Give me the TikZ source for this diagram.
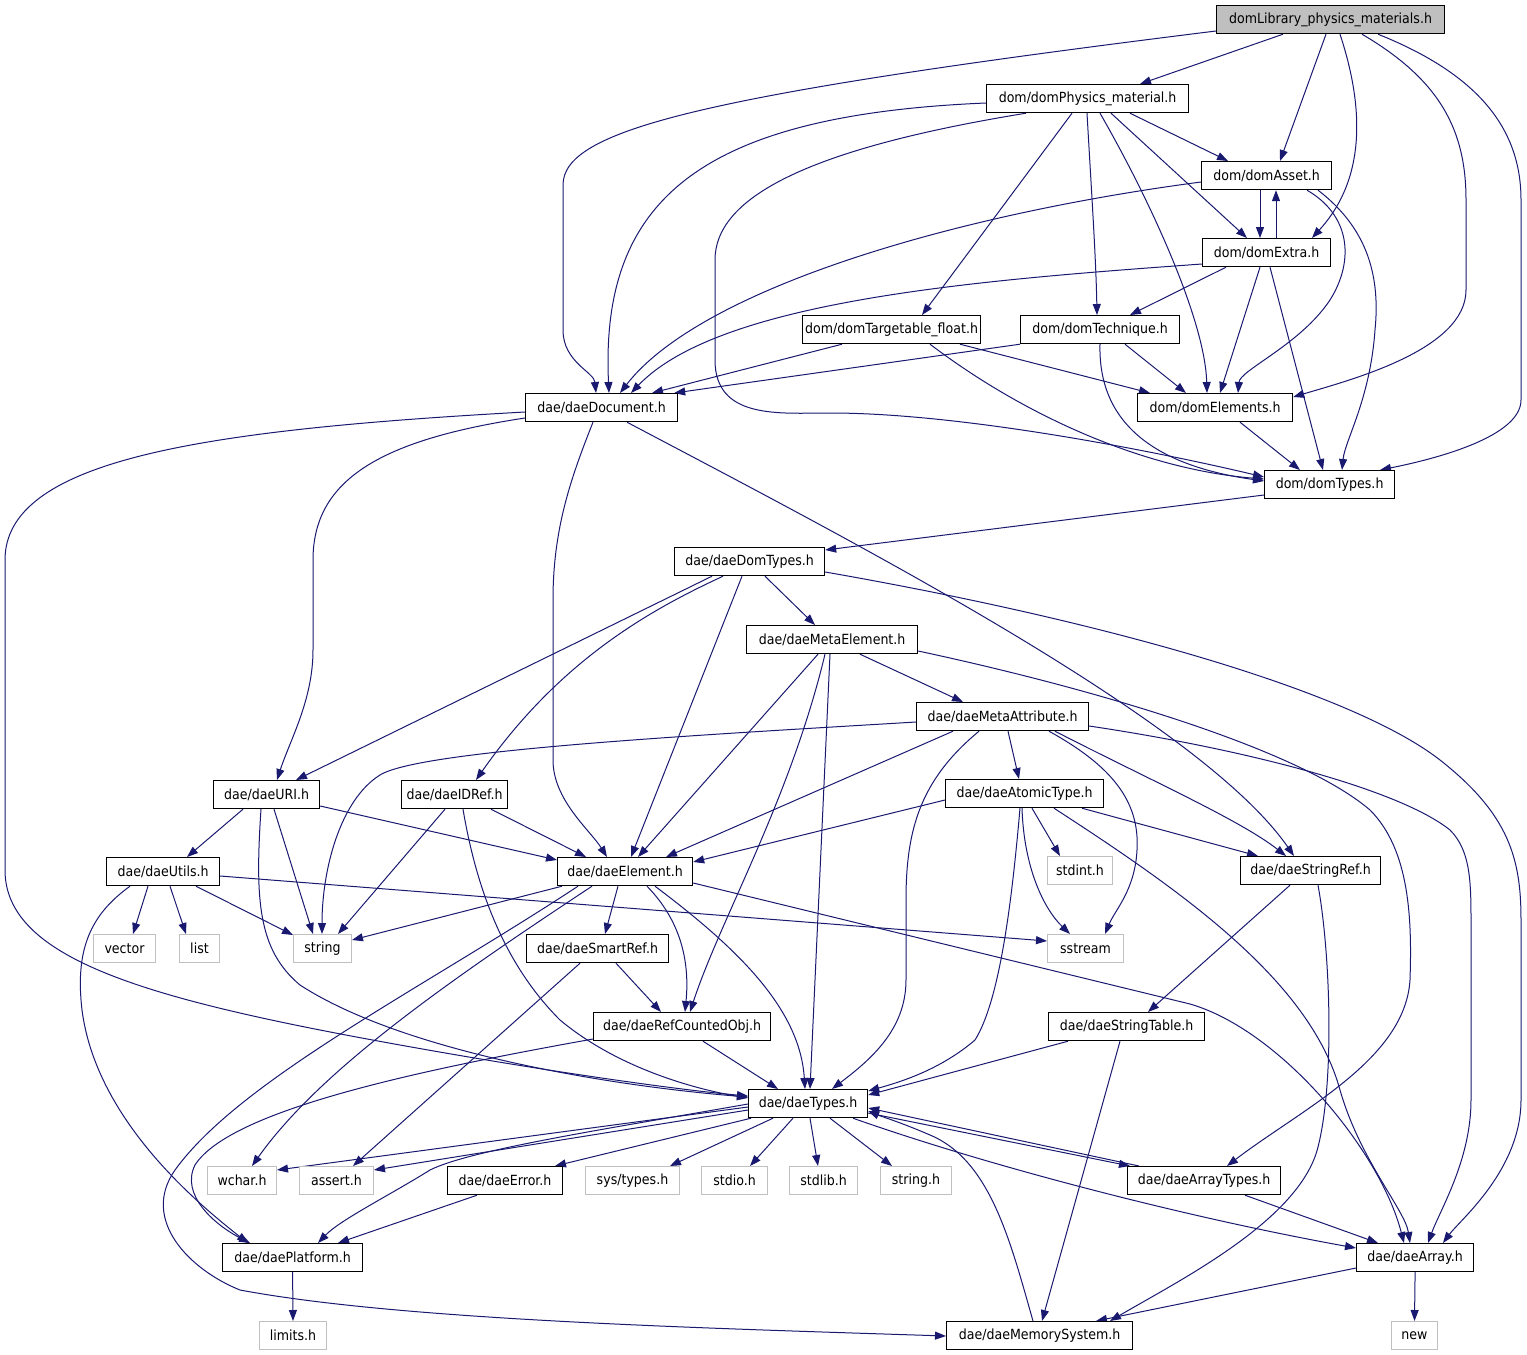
\documentclass[tikz,border=0pt]{standalone}
\usepackage{fontspec}
\setmainfont{DejaVu Sans}[FakeStretch=0.9]
\usetikzlibrary{arrows.meta}
\definecolor{edgec}{HTML}{191970}
\definecolor{gfill}{HTML}{BFBFBF}
\definecolor{gline}{HTML}{C0C0C0}
\pgfdeclarelayer{bg}
\pgfsetlayers{bg,main}
\tikzset{
  box/.style={draw=black, line width=1.2pt, fill=white, inner sep=0pt, minimum height=28pt, anchor=north west, font=\fontsize{14pt}{16pt}\selectfont},
  gbox/.style={box, draw=gline, line width=1pt},
  e/.style={draw=edgec, line width=1pt, -{Triangle[length=11pt,width=8pt]}},
}
\begin{document}
\begin{tikzpicture}[x=1pt,y=-1pt]
\useasboundingbox (0,0) rectangle (1527,1355);
\node[box, fill=gfill, minimum width=228pt] (nL) at (1216,5) {domLibrary\_physics\_materials.h};
\node[box, minimum width=202pt] (nP) at (986,84) {dom/domPhysics\_material.h};
\node[box, minimum width=130pt] (nA) at (1201,161) {dom/domAsset.h};
\node[box, minimum width=128pt] (nE) at (1202,238) {dom/domExtra.h};
\node[box, minimum width=178pt] (nTF) at (802,315) {dom/domTargetable\_float.h};
\node[box, minimum width=159pt] (nT) at (1020,315) {dom/domTechnique.h};
\node[box, minimum width=152pt] (nD) at (525,393) {dae/daeDocument.h};
\node[box, minimum width=155pt] (nEl) at (1137,393) {dom/domElements.h};
\node[box, minimum width=130pt] (nTy) at (1264,470) {dom/domTypes.h};
\node[box, minimum width=150pt] (nDT) at (674,547) {dae/daeDomTypes.h};
\node[box, minimum width=171pt] (nME) at (746,625) {dae/daeMetaElement.h};
\node[box, minimum width=172pt] (nMA) at (916,702) {dae/daeMetaAttribute.h};
\node[box, minimum width=106pt] (nU) at (213,780) {dae/daeURI.h};
\node[box, minimum width=106pt] (nI) at (401,780) {dae/daeIDRef.h};
\node[box, minimum width=158pt] (nAT) at (945,779) {dae/daeAtomicType.h};
\node[box, minimum width=113pt] (nUt) at (106,857) {dae/daeUtils.h};
\node[box, minimum width=135pt] (nDE) at (557,857) {dae/daeElement.h};
\node[box, minimum width=140pt] (nSRf) at (1240,856) {dae/daeStringRef.h};
\node[gbox, minimum width=65pt] (nstdint) at (1047,856) {stdint.h};
\node[gbox, minimum width=62pt] (nvector) at (93,934) {vector};
\node[gbox, minimum width=40pt] (nlist) at (179,934) {list};
\node[gbox, minimum width=58pt] (nstring) at (293,934) {string};
\node[gbox, minimum width=76pt] (nsstream) at (1047,934) {sstream};
\node[box, minimum width=142pt] (nSR) at (526,934) {dae/daeSmartRef.h};
\node[box, minimum width=177pt] (nRC) at (593,1012) {dae/daeRefCountedObj.h};
\node[box, minimum width=156pt] (nST) at (1048,1012) {dae/daeStringTable.h};
\node[box, minimum width=119pt] (nTY) at (748,1089) {dae/daeTypes.h};
\node[gbox, minimum width=69pt] (nwchar) at (207,1166) {wchar.h};
\node[gbox, minimum width=74pt] (nassert) at (299,1166) {assert.h};
\node[box, minimum width=115pt] (nErr) at (447,1166) {dae/daeError.h};
\node[gbox, minimum width=94pt] (nsystypes) at (585,1166) {sys/types.h};
\node[gbox, minimum width=66pt] (nstdio) at (701,1166) {stdio.h};
\node[gbox, minimum width=68pt] (nstdlib) at (789,1166) {stdlib.h};
\node[gbox, minimum width=71pt] (nstringh) at (880,1166) {string.h};
\node[box, minimum width=153pt] (nAT2) at (1127,1166) {dae/daeArrayTypes.h};
\node[box, minimum width=140pt] (nPlat) at (222,1243) {dae/daePlatform.h};
\node[box, minimum width=117pt] (nArr) at (1356,1243) {dae/daeArray.h};
\node[gbox, minimum width=67pt] (nlimits) at (259,1321) {limits.h};
\node[box, minimum width=186pt] (nMS) at (946,1321) {dae/daeMemorySystem.h};
\node[gbox, minimum width=46pt] (nnew) at (1391,1321) {new};

\begin{pgfonlayer}{bg}
% L
\draw[e] ([yshift=-26pt]nL.north west) .. controls (700,95) and (563,130) .. (563,185) -- (563,330) .. controls (563,362) and (594,372) .. ([xshift=71pt]nD.north west);
\draw[e] ([xshift=67pt]nL.south west) -- ([xshift=154pt]nP.north west);
\draw[e] ([xshift=110pt]nL.south west) -- ([xshift=79pt]nA.north west);
\draw[e] ([xshift=124pt]nL.south west) .. controls (1365,110) and (1365,180) .. ([xshift=110pt]nE.north west);
\draw[e] ([xshift=146pt]nL.south west) .. controls (1440,80) and (1466,130) .. (1466,200) -- (1466,290) .. controls (1466,350) and (1350,380) .. ([yshift=-4pt]nEl.north east);
\draw[e] ([xshift=162pt]nL.south west) .. controls (1480,75) and (1521,130) .. (1521,200) -- (1521,400) .. controls (1521,440) and (1420,462) .. ([xshift=116pt]nTy.north west);
% P
\draw[e] ([yshift=-19pt]nP.north west) .. controls (700,115) and (600,200) .. ([xshift=84pt]nD.north west);
\draw[e] ([xshift=40pt]nP.south west) .. controls (800,150) and (715,200) .. (715,260) -- (715,360) .. controls (715,420) and (780,413) .. (830,413) .. controls (960,413) and (1150,450) .. ([yshift=-7pt]nTy.north west);
\draw[e] ([xshift=144pt]nP.south west) -- ([xshift=27pt]nA.north west);
\draw[e] ([xshift=125pt]nP.south west) -- ([xshift=45pt]nE.north west);
\draw[e] ([xshift=86pt]nP.south west) -- ([xshift=120pt]nTF.north west);
\draw[e] ([xshift=101pt]nP.south west) .. controls (1092,200) and (1096,260) .. ([xshift=77pt]nT.north west);
\draw[e] ([xshift=114pt]nP.south west) .. controls (1150,200) and (1205,320) .. ([xshift=70pt]nEl.north west);
% A
\draw[e] ([yshift=-21pt]nA.north west) .. controls (950,215) and (700,290) .. ([xshift=95pt]nD.north west);
\draw[e] ([xshift=59pt]nA.south west) -- ([xshift=58pt]nE.north west);
\draw[e] ([xshift=106pt]nA.south west) .. controls (1350,215) and (1355,260) .. (1330,300) .. controls (1300,345) and (1240,370) .. ([xshift=101pt]nEl.north west);
\draw[e] ([xshift=117pt]nA.south west) .. controls (1370,230) and (1380,280) .. (1375,330) .. controls (1370,400) and (1345,440) .. ([xshift=78pt]nTy.north west);
% E
\draw[e] ([xshift=74pt]nE.north west) -- ([xshift=75pt]nA.south west);
\draw[e] ([yshift=-26pt]nE.north west) .. controls (980,280) and (720,300) .. ([xshift=106pt]nD.north west);
\draw[e] ([xshift=24pt]nE.south west) -- ([xshift=110pt]nT.north west);
\draw[e] ([xshift=58pt]nE.south west) -- ([xshift=83pt]nEl.north west);
\draw[e] ([xshift=68pt]nE.south west) -- ([xshift=59pt]nTy.north west);
% TF
\draw[e] ([xshift=40pt]nTF.south west) -- ([xshift=127pt]nD.north west);
\draw[e] ([xshift=158pt]nTF.south west) -- ([xshift=13pt]nEl.north west);
\draw[e] ([xshift=128pt]nTF.south west) .. controls (1030,420) and (1150,470) .. ([yshift=-9pt]nTy.north west);
% T
\draw[e] (nT.south west) -- ([xshift=-4pt]nD.north east);
\draw[e] ([xshift=105pt]nT.south west) -- ([xshift=49pt]nEl.north west);
\draw[e] ([xshift=80pt]nT.south west) .. controls (1098,420) and (1150,465) .. ([yshift=-11pt]nTy.north west);
% D
\draw[e] ([yshift=-19pt]nD.north west) .. controls (200,430) and (5,460) .. (5,560) -- (5,870) .. controls (5,960) and (150,1000) .. (400,1045) .. controls (550,1072) and (680,1090) .. ([yshift=-7pt]nTY.north west);
\draw[e] ([yshift=-25pt]nD.north west) .. controls (380,440) and (313,480) .. (313,560) -- (313,650) .. controls (313,700) and (290,740) .. ([xshift=64pt]nU.north west);
\draw[e] ([xshift=68pt]nD.south west) .. controls (570,480) and (553,530) .. (553,600) -- (553,760) .. controls (553,800) and (590,830) .. ([xshift=50pt]nDE.north west);
\draw[e] ([xshift=102pt]nD.south west) .. controls (850,540) and (1200,720) .. ([xshift=54pt]nSRf.north west);
% El, Ty
\draw[e] ([xshift=103pt]nEl.south west) -- ([xshift=36pt]nTy.north west);
\draw[e] ([yshift=-25pt]nTy.north west) -- ([yshift=-3pt]nDT.north east);
% DT
\draw[e] ([xshift=38pt]nDT.south west) -- ([xshift=83pt]nU.north west);
\draw[e] ([xshift=49pt]nDT.south west) .. controls (650,610) and (560,660) .. ([xshift=75pt]nI.north west);
\draw[e] ([xshift=68pt]nDT.south west) -- ([xshift=74pt]nDE.north west);
\draw[e] ([xshift=91pt]nDT.south west) -- ([xshift=69pt]nME.north west);
\draw[e] ([yshift=-25pt]nDT.north east) .. controls (1100,620) and (1350,690) .. (1440,760) .. controls (1510,815) and (1521,860) .. (1521,920) -- (1521,1100) .. controls (1521,1170) and (1460,1220) .. ([xshift=87pt]nArr.north west);
% ME
\draw[e] ([xshift=114pt]nME.south west) -- ([xshift=47pt]nMA.north west);
\draw[e] ([xshift=72pt]nME.south west) -- ([xshift=81pt]nDE.north west);
\draw[e] ([xshift=79pt]nME.south west) .. controls (790,800) and (720,920) .. ([xshift=97pt]nRC.north west);
\draw[e] ([xshift=84pt]nME.south west) -- ([xshift=62pt]nTY.north west);
\draw[e] ([yshift=-26pt]nME.north east) .. controls (1100,690) and (1300,750) .. (1370,810) .. controls (1410,850) and (1412,920) .. (1410,980) .. controls (1405,1060) and (1300,1110) .. ([xshift=100pt]nAT2.north west);
% MA
\draw[e] ([yshift=-20pt]nMA.north west) .. controls (700,735) and (420,750) .. (380,775) .. controls (340,800) and (322,870) .. ([xshift=29pt]nstring.north west);
\draw[e] ([xshift=37pt]nMA.south west) -- ([xshift=109pt]nDE.north west);
\draw[e] ([xshift=63pt]nMA.south west) .. controls (920,780) and (906,830) .. (906,900) -- (906,980) .. controls (906,1030) and (870,1060) .. ([xshift=84pt]nTY.north west);
\draw[e] ([xshift=92pt]nMA.south west) -- ([xshift=74pt]nAT.north west);
\draw[e] ([xshift=133pt]nMA.south west) .. controls (1110,765) and (1140,800) .. (1137,850) .. controls (1135,890) and (1115,910) .. ([xshift=58pt]nsstream.north west);
\draw[e] ([xshift=139pt]nMA.south west) .. controls (1150,780) and (1240,820) .. ([xshift=46pt]nSRf.north west);
\draw[e] ([yshift=-24pt]nMA.north east) .. controls (1250,750) and (1400,790) .. (1450,830) .. controls (1470,850) and (1471,880) .. (1471,920) -- (1471,1100) .. controls (1471,1160) and (1440,1210) .. ([xshift=72pt]nArr.north west);
% U
\draw[e] ([xshift=30pt]nU.south west) -- ([xshift=81pt]nUt.north west);
\draw[e] ([xshift=61pt]nU.south west) -- ([xshift=20pt]nstring.north west);
\draw[e] ([yshift=-26pt]nU.north east) -- ([yshift=-3pt]nDE.north west);
\draw[e] ([xshift=48pt]nU.south west) .. controls (255,900) and (258,950) .. (300,985) .. controls (400,1050) and (600,1085) .. ([yshift=-8pt]nTY.north west);
% I
\draw[e] ([xshift=44pt]nI.south west) -- ([xshift=45pt]nstring.north west);
\draw[e] ([xshift=90pt]nI.south west) -- ([xshift=29pt]nDE.north west);
\draw[e] ([xshift=62pt]nI.south west) .. controls (475,880) and (500,960) .. (560,1020) .. controls (620,1070) and (700,1090) .. ([yshift=-9pt]nTY.north west);
% AT
\draw[e] ([yshift=-21pt]nAT.north west) -- ([yshift=-5pt]nDE.north east);
\draw[e] ([xshift=87pt]nAT.south west) -- ([xshift=13pt]nstdint.north west);
\draw[e] ([xshift=77pt]nAT.south west) .. controls (1024,870) and (1045,910) .. ([xshift=23pt]nsstream.north west);
\draw[e] ([xshift=75pt]nAT.south west) .. controls (1012,900) and (1000,1000) .. (975,1040) .. controls (940,1070) and (900,1082) .. ([yshift=-2pt]nTY.north east);
\draw[e] ([xshift=137pt]nAT.south west) -- ([xshift=18pt]nSRf.north west);
\draw[e] ([xshift=109pt]nAT.south west) .. controls (1180,890) and (1310,980) .. (1340,1090) .. controls (1360,1160) and (1405,1210) .. ([xshift=54pt]nArr.north west);
% Ut
\draw[e] ([xshift=42pt]nUt.south west) -- ([xshift=40pt]nvector.north west);
\draw[e] ([xshift=64pt]nUt.south west) -- ([xshift=7pt]nlist.north west);
\draw[e] ([xshift=90pt]nUt.south west) -- ([yshift=-1pt]nstring.north west);
\draw[e] ([yshift=-19pt]nUt.north east) -- ([yshift=-7pt]nsstream.north west);
\draw[e] ([xshift=24pt]nUt.south west) .. controls (90,915) and (75,950) .. (82,1010) .. controls (95,1110) and (180,1190) .. ([xshift=26pt]nPlat.north west);
% DE
\draw[e] ([xshift=5pt]nDE.south west) -- ([yshift=-6pt]nstring.north east);
\draw[e] ([xshift=61pt]nDE.south west) -- ([xshift=79pt]nSR.north west);
\draw[e] ([xshift=90pt]nDE.south west) .. controls (680,920) and (690,960) .. ([xshift=92pt]nRC.north west);
\draw[e] ([xshift=98pt]nDE.south west) .. controls (740,950) and (800,1010) .. ([xshift=57pt]nTY.north west);
\draw[e] ([yshift=-26pt]nDE.north east) -- (1190,1004) .. controls (1280,1030) and (1380,1150) .. ([xshift=48pt]nArr.north west);
\draw[e] ([xshift=21pt]nDE.south west) .. controls (420,990) and (240,1080) .. (175,1170) .. controls (140,1220) and (190,1270) .. (240,1290) .. controls (400,1320) and (700,1328) .. ([yshift=-15pt]nMS.north west);
\draw[e] ([xshift=35pt]nDE.south west) .. controls (450,980) and (320,1070) .. ([xshift=45pt]nwchar.north west);
% SR
\draw[e] ([xshift=90pt]nSR.south west) -- ([xshift=68pt]nRC.north west);
\draw[e] ([xshift=54pt]nSR.south west) -- ([xshift=54pt]nassert.north west);
% RC
\draw[e] ([xshift=110pt]nRC.south west) -- ([xshift=30pt]nTY.north west);
\draw[e] ([yshift=-27pt]nRC.north west) .. controls (420,1070) and (230,1110) .. (195,1165) .. controls (180,1195) and (215,1225) .. ([xshift=28pt]nPlat.north west);
% TY
\draw[e] ([yshift=-18pt]nTY.north west) -- ([yshift=-4pt]nwchar.north east);
\draw[e] ([yshift=-21pt]nTY.north west) -- ([yshift=-4pt]nassert.north east);
\draw[e] ([xshift=3pt]nTY.south west) -- ([xshift=108pt]nErr.north west);
\draw[e] ([xshift=25pt]nTY.south west) -- ([xshift=85pt]nsystypes.north west);
\draw[e] ([xshift=45pt]nTY.south west) -- ([xshift=49pt]nstdio.north west);
\draw[e] ([xshift=62pt]nTY.south west) -- ([xshift=29pt]nstdlib.north west);
\draw[e] ([xshift=82pt]nTY.south west) -- ([xshift=12pt]nstringh.north west);
\draw[e] ([yshift=-24pt]nTY.north east) -- ([xshift=3pt]nAT2.north west);
\draw[e] ([xshift=12pt]nAT2.north west) -- ([yshift=-19pt]nTY.north east);
\draw[e] ([xshift=105pt]nTY.south west) .. controls (1000,1170) and (1200,1220) .. ([yshift=-5pt]nArr.north west);
\draw[e] ([yshift=-15pt]nTY.north west) .. controls (600,1130) and (470,1150) .. (430,1170) .. controls (390,1195) and (340,1220) .. ([xshift=96pt]nPlat.north west);
% SRf
\draw[e] ([xshift=50pt]nSRf.south west) -- ([xshift=100pt]nST.north west);
\draw[e] ([xshift=78pt]nSRf.south west) .. controls (1330,950) and (1335,1080) .. (1318,1147) .. controls (1300,1220) and (1180,1280) .. ([xshift=164pt]nMS.north west);
% ST
\draw[e] ([xshift=20pt]nST.south west) -- ([yshift=-6pt]nTY.north east);
\draw[e] ([xshift=72pt]nST.south west) -- ([xshift=96pt]nMS.north west);
% Err, AT2, Arr, MS, Plat
\draw[e] ([xshift=30pt]nErr.south west) -- ([xshift=116pt]nPlat.north west);
\draw[e] ([xshift=118pt]nAT2.south west) -- ([xshift=22pt]nArr.north west);
\draw[e] ([yshift=-25pt]nArr.north west) -- ([xshift=150pt]nMS.north west);
\draw[e] (nArr.south) -- (nnew.north);
\draw[e] ([xshift=87pt]nMS.north west) .. controls (1010,1240) and (990,1160) .. (930,1135) .. controls (900,1122) and (880,1116) .. ([yshift=-22pt]nTY.north east);
\draw[e] (nPlat.south) -- (nlimits.north);
\end{pgfonlayer}
\end{tikzpicture}
\end{document}
